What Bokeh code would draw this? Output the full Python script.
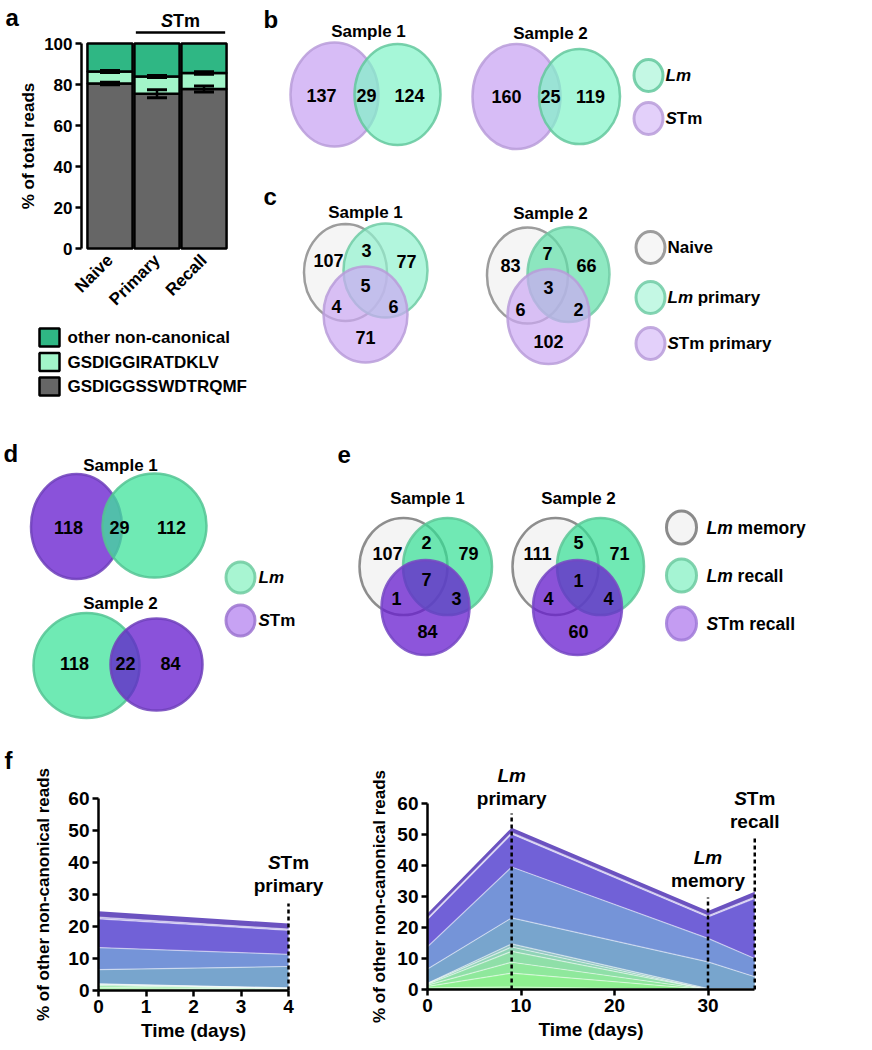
import math
from bokeh.plotting import figure
from bokeh.layouts import row, column
from bokeh.models import Range1d, ColumnDataSource, Whisker, TeeHead, FixedTicker
from bokeh.core.properties import value
from bokeh.embed import file_html
from bokeh.resources import INLINE

FONT = "Liberation Sans"

# ---------------- data ----------------
a_groups = ["Naive", "Primary", "Recall"]
a_series = ["GSDIGGSSWDTRQMF", "GSDIGGIRATDKLV", "other non-canonical"]
a_canonical = [80.5, 75.5, 77.8]
a_canonical_err = [0.6, 2.0, 1.5]
a_iratdklv = [5.8, 8.4, 7.8]
a_iratdklv_err = [0.5, 0.5, 0.6]
a_other = [13.7, 16.1, 14.4]
a_colors = ["#666666", "#a2f5c9", "#2fb784"]

b_sets = ["Lm", "STm"]
b_sample1 = [137, 29, 124]          # STm only, both, Lm only
b_sample2 = [160, 25, 119]
c_sets = ["Naive", "Lm primary", "STm primary"]
c_sample1 = [107, 3, 77, 5, 4, 6, 71]   # A, AB, B, ABC, AC, BC, C
c_sample2 = [83, 7, 66, 3, 6, 2, 102]
d_sets = ["Lm", "STm"]
d_sample1 = [118, 29, 112]          # STm only, both, Lm only
d_sample2 = [118, 22, 84]           # Lm only, both, STm only
e_sets = ["Lm memory", "Lm recall", "STm recall"]
e_sample1 = [107, 2, 79, 7, 1, 3, 84]
e_sample2 = [111, 5, 71, 1, 4, 4, 60]
samples = ["Sample 1", "Sample 2"]

f_left_days = [0, 4]
f_left_clones = [
    [0.5, 0.2], [0.5, 0.2], [0.5, 0.2], [0.3, 0.1], [0.2, 0.1], [0.1, 0.0],
    [4.4, 6.7], [6.9, 3.8], [9.0, 7.5], [0.5, 0.4], [1.9, 1.7],
]
f_left_events = [("STm", "primary")]
f_right_days = [0, 9, 30, 35]
f_right_clones = [
    [0.5, 0.8, 0.0, 0.0], [0.5, 4.5, 0.0, 0.0], [0.4, 3.5, 0.0, 0.0],
    [0.3, 3.5, 0.0, 0.0], [0.2, 1.4, 0.0, 0.0], [0.1, 1.0, 0.3, 0.3],
    [4.6, 8.4, 8.6, 3.8], [7.2, 16.4, 7.6, 5.9], [8.8, 10.7, 6.9, 19.4],
    [0.4, 0.4, 0.4, 0.4], [1.5, 1.6, 1.5, 1.7],
]
f_right_events = [("Lm", "primary"), ("Lm", "memory"), ("STm", "recall")]
f_colors = ["#8df58c", "#8ef090", "#8fe89c", "#8fdfa8", "#90d4b6", "#93c5c4",
            "#78a5cd", "#7594d8", "#7161d7", "#b4a8ea", "#6b52c0"]

# ---------------- helpers ----------------
EM = {"L": 0.611, "m": 0.889, "S": 0.667, "T": 0.611, " ": 0.278}


def txt(p, x, y, s, size=16, style="bold", align="center", dx=0):
    p.text(x=[x], y=[y], text=[s], text_font=value(FONT), text_font_size=f"{size}px",
           text_font_style=style, text_align=align, text_baseline="middle",
           text_color="black", x_offset=dx)


def split_italic(label):
    if label.startswith("Lm"):
        return "Lm", label[2:]
    if label.startswith("STm"):
        return "S", label[1:]
    return "", label


def set_label(p, x, y, label, size=17):
    ital, rest = split_italic(label)
    dx = 0
    if ital:
        txt(p, x, y, ital, size, "bold italic", "left")
        dx = sum(EM[c] for c in ital) * size
    if rest.startswith(" "):
        dx += EM[" "] * size
        rest = rest.lstrip()
    if rest:
        txt(p, x, y, rest, size, "bold", "left", dx=dx)


def center_label(p, x, y, label, size):
    ital, rest = split_italic(label)
    if not ital:
        txt(p, x, y, label, size)
    elif not rest:
        txt(p, x, y, label, size, "bold italic")
    else:
        total = sum(EM.get(c, 0.6) for c in label) * size
        txt(p, x, y, ital, size, "bold italic", "left", dx=-total / 2)
        txt(p, x, y, rest, size, "bold", "left",
            dx=-total / 2 + sum(EM[c] for c in ital) * size)


def solid(hexc, alpha):
    h = hexc.lstrip("#")
    rgb = [int(h[i:i + 2], 16) for i in (0, 2, 4)]
    base = [max(0, min(255, round((c - (1 - alpha) * 255) / alpha))) for c in rgb]
    return "#%02x%02x%02x" % tuple(base)


def circ(p, x, y, w, h, fill, line, alpha=0.7, lw=2.5):
    p.ellipse(x=[x], y=[y], width=[w], height=[h], fill_color=solid(fill, alpha),
              fill_alpha=alpha, line_color=line, line_width=lw, line_alpha=0.85)


def canvas(x0, y0, w, h):
    p = figure(width=w, height=h, x_range=Range1d(x0, x0 + w), y_range=Range1d(y0 + h, y0),
               x_axis_type=None, y_axis_type=None, output_backend="svg",
               toolbar_location=None, min_border=0)
    p.outline_line_color = None
    return p


def style_axes(p, tick_size, xlabel_size, ylabel_size):
    for ax in p.axis:
        ax.axis_line_width = 2.5
        ax.axis_line_color = "black"
        ax.major_tick_line_width = 2.5
        ax.major_tick_line_color = "black"
        ax.major_tick_out = 6
        ax.major_tick_in = 0
        ax.minor_tick_line_color = None
        ax.major_label_text_font = FONT
        ax.major_label_text_font_style = "bold"
        ax.major_label_text_font_size = f"{tick_size}px"
        ax.major_label_text_color = "black"
        ax.axis_label_text_font = FONT
        ax.axis_label_text_font_style = "bold"
        ax.axis_label_text_color = "black"
        ax.major_label_standoff = 3
        ax.axis_label_standoff = 4
    p.xaxis.axis_label_text_font_size = f"{xlabel_size}px"
    p.yaxis.axis_label_text_font_size = f"{ylabel_size}px"
    p.grid.visible = False
    p.outline_line_color = None


# ---------------- panel a (canvas with fixed-location axes) ----------------
def pax(px):
    return 1 + (px - 109.5) / 47.0


def pay(py):
    return (248 - py) / 2.05


xa = list(range(1, len(a_groups) + 1))
pa = figure(width=260, height=440, x_range=Range1d(pax(0), pax(260)),
            y_range=Range1d(pay(440), pay(0)), output_backend="svg",
            toolbar_location=None, min_border=0)
src_a = ColumnDataSource(dict(x=xa, canonical=a_canonical, iratdklv=a_iratdklv, other=a_other))
pa.vbar_stack(["canonical", "iratdklv", "other"], x="x", width=0.96, color=a_colors,
              line_color="black", line_width=2.5, source=src_a)
cum2 = [c + i for c, i in zip(a_canonical, a_iratdklv)]
for cum, err in ((a_canonical, a_canonical_err), (cum2, a_iratdklv_err)):
    ws = ColumnDataSource(dict(x=xa, u=[c + e for c, e in zip(cum, err)],
                               l=[c - e for c, e in zip(cum, err)]))
    pa.add_layout(Whisker(source=ws, base="x", upper="u", lower="l", line_width=2.5,
                          line_color="black", level="overlay",
                          upper_head=TeeHead(size=20, line_width=3, line_color="black"),
                          lower_head=TeeHead(size=20, line_width=3, line_color="black")))
pa.segment(x0=[xa[1] - 0.45], x1=[xa[2] + 0.45], y0=[pay(32)], y1=[pay(32)],
           line_width=2.5, line_color="black")
center_label(pa, (xa[1] + xa[2]) / 2, pay(20), "STm", 18)
style_axes(pa, 17, 17, 17)
pa.xaxis.fixed_location = 0
pa.yaxis.fixed_location = pax(81)
pa.yaxis.axis_label = "% of total reads"
pa.yaxis.axis_label_standoff = 3
pa.yaxis.bounds = (0, 100)
pa.yaxis.ticker = FixedTicker(ticks=[0, 20, 40, 60, 80, 100])
pa.xaxis.ticker = FixedTicker(ticks=xa)
pa.xaxis.major_label_overrides = {x: g for x, g in zip(xa, a_groups)}
pa.xaxis.major_label_orientation = math.pi / 4
pa.xaxis.major_label_text_font_size = "17px"
pa.xaxis.axis_line_color = None
pa.xaxis.major_tick_line_color = None
txt(pa, pax(5), pay(17), "a", 24, align="left")
for i, (name, col) in enumerate(zip(a_series[::-1], a_colors[::-1])):
    y = pay(337 + i * 24.5)
    pa.rect(x=[pax(49)], y=[y], width=20 / 47.0, height=18 / 2.05, fill_color=col,
            line_color="black", line_width=2.5)
    txt(pa, pax(67), y, name, 17, align="left")

# ---------------- panels b, c ----------------
pbc = canvas(260, 0, 612, 440)
txt(pbc, 263, 19, "b", 24, align="left")
B_PUR, B_PUR_L, B_GRN, B_GRN_L = "#d7bcf6", "#b99cd9", "#a6f7d8", "#64c89d"
txt(pbc, 368, 31, samples[0], 17)
circ(pbc, 334, 94, 88, 104, B_PUR, B_PUR_L)
circ(pbc, 397, 94, 86, 101, B_GRN, B_GRN_L)
for v, x in zip(b_sample1, [321, 366, 409]):
    txt(pbc, x, 95, str(v), 18)
txt(pbc, 550, 33, samples[1], 17)
circ(pbc, 516, 96, 88, 105, B_PUR, B_PUR_L)
circ(pbc, 579, 96, 81, 95, B_GRN, B_GRN_L)
for v, x in zip(b_sample2, [506, 550, 590]):
    txt(pbc, x, 96, str(v), 18)
circ(pbc, 648, 75, 29, 32, "#c4f8e4", B_GRN_L, alpha=1, lw=3)
circ(pbc, 648, 118, 29, 32, "#e3d0fa", B_PUR_L, alpha=1, lw=3)
set_label(pbc, 665, 75, b_sets[0])
set_label(pbc, 665, 118, b_sets[1])

txt(pbc, 263, 196, "c", 24, align="left")
C_GRY, C_GRY_L = "#f5f5f5", "#8c8c8c"
C_GRN, C_GRN2, C_GRN_L = "#b2f6dd", "#8fe9c2", "#70cba4"
C_PUR, C_PUR_L = "#dbc2f7", "#b99cd9"
txt(pbc, 365, 212, samples[0], 17)
circ(pbc, 345, 272, 83, 97, C_GRY, C_GRY_L)
circ(pbc, 385, 270, 84, 94, C_GRN, C_GRN_L)
circ(pbc, 365, 314, 84, 96, C_PUR, C_PUR_L)
for v, (x, y) in zip(c_sample1, [(328, 260), (366, 250), (406, 261), (365, 285),
                                 (336, 306), (393, 306), (365, 337)]):
    txt(pbc, x, y, str(v), 18)
txt(pbc, 550, 213, samples[1], 17)
circ(pbc, 527, 275, 81, 96, C_GRY, C_GRY_L)
circ(pbc, 568, 274, 82, 95, C_GRN2, C_GRN_L)
circ(pbc, 548, 316, 82, 95, C_PUR, C_PUR_L)
for v, (x, y) in zip(c_sample2, [(510, 265), (547, 253), (586, 265), (548, 287),
                                 (520, 309), (578, 309), (548, 341)]):
    txt(pbc, x, y, str(v), 18)
for (name, fill, line), y in zip([(c_sets[0], "#f6f6f6", "#8c8c8c"),
                                  (c_sets[1], "#c4f8e4", C_GRN_L),
                                  (c_sets[2], "#e3d0fa", C_PUR_L)], [247, 297, 343]):
    circ(pbc, 650, y, 29, 32, fill, line, alpha=1, lw=3)
    set_label(pbc, 667, y, name)

# ---------------- panel d ----------------
pd = canvas(0, 440, 300, 306)
txt(pd, 3, 453, "d", 24, align="left")
D_PUR, D_PUR_L, D_GRN, D_GRN_L = "#8a52da", "#6e3fbb", "#6feab4", "#52c493"
txt(pd, 120, 465, samples[0], 17)
circ(pd, 76, 526, 91, 105, D_PUR, D_PUR_L, alpha=0.8)
circ(pd, 154, 525, 104, 104, D_GRN, D_GRN_L, alpha=0.75)
for v, x in zip(d_sample1, [68, 119, 171]):
    txt(pd, x, 527, str(v), 18)
txt(pd, 120, 603, samples[1], 17)
circ(pd, 86, 665, 106, 105, D_GRN, D_GRN_L, alpha=0.8)
circ(pd, 156, 664, 92, 92, D_PUR, D_PUR_L, alpha=0.75)
for v, x in zip(d_sample2, [74, 125, 170]):
    txt(pd, x, 663, str(v), 18)
circ(pd, 240, 577, 29, 31, "#a8f5d2", "#6fcba0", alpha=1, lw=3)
circ(pd, 240, 620, 29, 31, "#c7a2f3", "#9c74d0", alpha=1, lw=3)
set_label(pd, 258, 577, d_sets[0])
set_label(pd, 258, 620, d_sets[1])

# ---------------- panel e ----------------
pe = canvas(300, 440, 572, 306)
txt(pe, 337, 454, "e", 24, align="left")
E_GRY, E_GRY_L = "#f4f4f4", "#7a7a7a"
E_GRN, E_GRN_L = "#70e9b4", "#5cc797"
E_PUR, E_PUR_L = "#8d55db", "#7546c4"
txt(pe, 427, 498, samples[0], 17)
circ(pe, 403, 566, 88, 97, E_GRY, E_GRY_L)
circ(pe, 447, 566, 89, 97, E_GRN, E_GRN_L)
circ(pe, 425, 607, 88, 95, E_PUR, E_PUR_L, alpha=0.75)
for v, (x, y) in zip(e_sample1, [(387, 553), (426, 542), (468, 553), (426, 579),
                                 (396, 598), (456, 598), (427, 631)]):
    txt(pe, x, y, str(v), 18)
txt(pe, 578, 498, samples[1], 17)
circ(pe, 555, 566, 86, 97, E_GRY, E_GRY_L)
circ(pe, 600, 566, 87, 97, E_GRN, E_GRN_L)
circ(pe, 577, 607, 89, 95, E_PUR, E_PUR_L, alpha=0.75)
for v, (x, y) in zip(e_sample2, [(537, 553), (578, 542), (619, 553), (578, 580),
                                 (548, 598), (608, 598), (578, 631)]):
    txt(pe, x, y, str(v), 18)
for (name, fill, line), y in zip([(e_sets[0], "#f4f4f4", "#777777"),
                                  (e_sets[1], "#a5f4d3", "#6ccaa0"),
                                  (e_sets[2], "#c49cf2", "#a07ad8")], [527, 575, 623]):
    circ(pe, 681, y, 30, 33, fill, line, alpha=1, lw=3)
    set_label(pe, 706, y, name, 17.5)


# ---------------- panel f ----------------
def area_panel(px0, width, days, clones, fx, fy, ticks, events, tops_px, label_px,
               ylabel_standoff):
    p = figure(width=width, height=302, x_range=Range1d(fx(px0), fx(px0 + width)),
               y_range=Range1d(fy(1048), fy(746)), output_backend="svg",
               toolbar_location=None, min_border=0)
    names = [f"c{i}" for i in range(len(clones))]
    data = dict(x=days)
    data.update({n: v for n, v in zip(names, clones)})
    src = ColumnDataSource(data)
    p.varea_stack(names, x="x", color=f_colors, source=src)
    p.vline_stack(names[:-1], x="x", color="white", line_alpha=0.5, line_width=1.2,
                  source=src)
    for d, ev, top, (y1, y2) in zip(days[1:], events, tops_px, label_px):
        p.segment(x0=[d], x1=[d], y0=[0], y1=[fy(top)], line_dash="4 3", line_width=2.5,
                  line_color="black")
        center_label(p, d, fy(y1), ev[0], 19)
        center_label(p, d, fy(y2), ev[1], 19)
    style_axes(p, 19, 19, 17)
    p.xaxis.fixed_location = 0
    p.yaxis.fixed_location = 0
    p.xaxis.axis_label = "Time (days)"
    p.yaxis.axis_label = "% of other non-canonical reads"
    p.yaxis.axis_label_standoff = ylabel_standoff
    p.xaxis.bounds = (0, days[-1])
    p.yaxis.bounds = (0, 60)
    p.xaxis.ticker = FixedTicker(ticks=ticks)
    p.yaxis.ticker = FixedTicker(ticks=[0, 10, 20, 30, 40, 50, 60])
    return p


def f1x(px):
    return (px - 98) / 47.5


def f1y(py):
    return (990 - py) / 3.2


def f2x(px):
    return (px - 427) / 9.35


def f2y(py):
    return (989 - py) / 3.1


pf1 = area_panel(0, 328, f_left_days, f_left_clones, f1x, f1y, [0, 1, 2, 3, 4],
                 f_left_events, [903], [(862, 885)], 12)
txt(pf1, f1x(4), f1y(760), "f", 24, align="left")
pf2 = area_panel(328, 544, f_right_days, f_right_clones, f2x, f2y, [0, 10, 20, 30],
                 f_right_events, [813, 897, 837], [(775, 798), (857, 880), (798, 821)], 5)

layout = column(
    row(pa, pbc),
    row(pd, pe),
    row(pf1, pf2),
)

open("out.html", "w").write(file_html(layout, INLINE))
